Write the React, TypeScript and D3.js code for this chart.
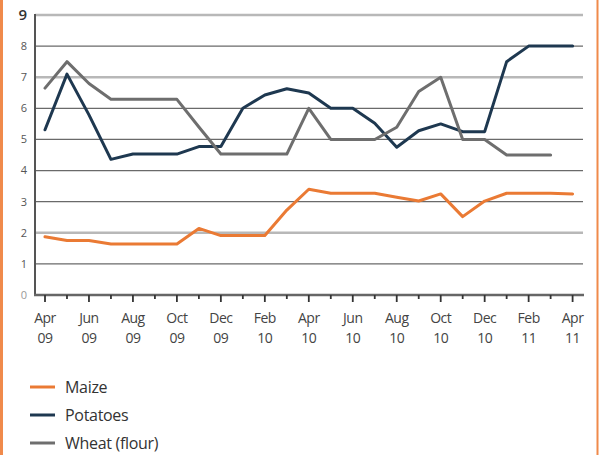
import React from "react";
import * as d3 from "d3";

const months = [
  "Apr 09","May 09","Jun 09","Jul 09","Aug 09","Sep 09","Oct 09","Nov 09","Dec 09","Jan 10","Feb 10","Mar 10",
  "Apr 10","May 10","Jun 10","Jul 10","Aug 10","Sep 10","Oct 10","Nov 10","Dec 10","Jan 11","Feb 11","Mar 11","Apr 11",
];
const tickLabels = [
  ["Apr","09"],["Jun","09"],["Aug","09"],["Oct","09"],["Dec","09"],["Feb","10"],["Apr","10"],
  ["Jun","10"],["Aug","10"],["Oct","10"],["Dec","10"],["Feb","11"],["Apr","11"],
];
const yTicks = [0,1,2,3,4,5,6,7,8,9];

const maize = [1.87,1.75,1.75,1.64,1.64,1.64,1.64,2.14,1.91,1.91,1.91,2.73,3.4,3.27,3.27,3.27,3.14,3.02,3.25,2.52,3.02,3.27,3.27,3.27,3.25];
const potatoes = [5.31,7.1,5.79,4.36,4.53,4.53,4.53,4.77,4.77,6.0,6.43,6.63,6.49,6.0,6.0,5.52,4.75,5.28,5.5,5.25,5.25,7.5,8.0,8.0,8.0];
const wheat = [6.65,7.5,6.8,6.29,6.29,6.29,6.29,5.4,4.53,4.53,4.53,4.53,6.0,5.0,5.0,5.0,5.39,6.54,7.0,5.0,5.0,4.5,4.5,4.5];

const seriesNames = ["Maize","Potatoes","Wheat (flour)"];
const seriesColors = ["#ea7a34","#1e3850","#6e6e6e"];
const seriesData = [maize, potatoes, wheat];

const FONT = "'Open Sans', 'DejaVu Sans', sans-serif";

export default function App() {
  const x = d3.scaleLinear().domain([0, 24]).range([45, 572.6]);
  const y = d3.scaleLinear().domain([0, 9]).range([295, 15]);
  const line = d3
    .line<number>()
    .x((_, i) => x(i))
    .y((d) => y(d));

  const light = new Set([9, 7, 2]);

  return (
    <>
      <style>{`body{margin:0}`}</style>
      <svg width={603} height={455} style={{ display: "block", background: "#fff" }}>
        <rect x={0} y={0} width={3} height={455} fill="#f08a4b" />
        <rect x={596.5} y={0} width={2} height={455} fill="#f08a4b" />

        {yTicks.filter((t) => t > 0).map((t) => (
          <line
            key={"g" + t}
            x1={35}
            x2={583}
            y1={y(t)}
            y2={y(t)}
            stroke={light.has(t) ? "#b8b8b8" : "#6a6a6a"}
            strokeWidth={light.has(t) ? 2.6 : 1.3}
          />
        ))}

        {yTicks.map((t) => (
          <text
            key={"yl" + t}
            x={27}
            y={y(t)}
            dy="0.35em"
            textAnchor="end"
            fontFamily={FONT}
            fontSize={t === 9 ? 15 : 11}
            fontWeight={t === 9 ? 600 : 400}
            fill={t === 9 ? "#333" : t === 0 ? "#999" : "#555"}
          >
            {t}
          </text>
        ))}

        {seriesData.map((d, k) => (
          <path
            key={"s" + k}
            d={line(d) || ""}
            fill="none"
            stroke={seriesColors[k]}
            strokeWidth={3}
            strokeLinejoin="round"
            strokeLinecap="round"
          />
        ))}

        <line x1={35} x2={35} y1={14} y2={296} stroke="#555" strokeWidth={2} />
        <line x1={34} x2={584} y1={295} y2={295} stroke="#666" strokeWidth={2.4} />

        {months.map((m, i) => (
          <line
            key={"t" + i}
            x1={x(i)}
            x2={x(i)}
            y1={295}
            y2={i % 2 === 0 ? 302 : 299}
            stroke="#333"
            strokeWidth={1.8}
          />
        ))}

        {tickLabels.map((lab, j) => (
          <text
            key={"xl" + j}
            x={x(j * 2)}
            y={323}
            textAnchor="middle"
            fontFamily={FONT}
            fontSize={14}
            letterSpacing={-0.5}
            fill="#444"
          >
            <tspan x={x(j * 2)} dy={0}>{lab[0]}</tspan>
            <tspan x={x(j * 2)} dy={20}>{lab[1]}</tspan>
          </text>
        ))}

        {seriesNames.map((n, k) => (
          <g key={"lg" + k} transform={`translate(0, ${387 + k * 28})`}>
            <line x1={30} x2={55} y1={0} y2={0} stroke={seriesColors[k]} strokeWidth={3} />
            <text x={65} y={0} dy="0.35em" fontFamily={FONT} fontSize={16} letterSpacing={-0.3} fill="#333">
              {n}
            </text>
          </g>
        ))}
      </svg>
    </>
  );
}
